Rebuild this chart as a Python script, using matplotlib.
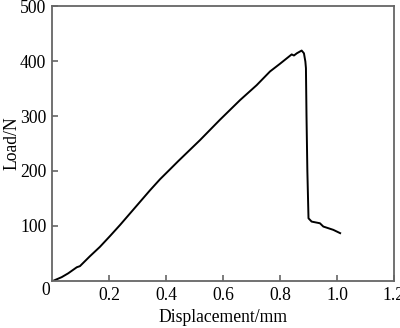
import matplotlib
matplotlib.use("Agg")
import matplotlib.pyplot as plt

disp = [0, 0.005, 0.034, 0.057, 0.087, 0.098, 0.133, 0.168, 0.204, 0.239, 0.274,
        0.309, 0.344, 0.379, 0.414, 0.443, 0.519, 0.589, 0.66, 0.718, 0.765, 0.8,
        0.841, 0.849, 0.859, 0.876, 0.884, 0.889, 0.891, 0.893, 0.896, 0.9, 0.911,
        0.94, 0.952, 0.987, 1.011]
load = [0, 0.5, 7, 14, 25, 27, 45, 62, 82, 102, 123,
        144, 165, 185, 203, 218, 256, 293, 329, 356, 381, 395,
        412, 410, 414, 419, 414, 399, 387, 300, 200, 114, 108,
        105, 99, 93, 87]

xticks = [0.2, 0.4, 0.6, 0.8, 1.0, 1.2]
xticklabels = ["0.2", "0.4", "0.6", "0.8", "1.0", "1.2"]
yticks = [100, 200, 300, 400, 500]
yticklabels = ["100", "200", "300", "400", "500"]

plt.rcParams["font.family"] = ["Liberation Serif", "DejaVu Serif"]
fig = plt.figure(figsize=(4.0, 3.28), dpi=100)
ax = fig.add_axes([0.13, 0.1433, 0.855, 0.8384])
ax.plot(disp, load, color="black", lw=1.4)
ax.set_xlim(0, 1.2)
ax.set_ylim(0, 500)
ax.set_xticks(xticks)
ax.set_xticklabels(xticklabels)
ax.set_yticks(yticks)
ax.set_yticklabels(yticklabels)
spine_c = "#666666"
for s in ax.spines.values():
    s.set_color(spine_c)
    s.set_linewidth(1.3)
fs = 12.7
ax.tick_params(direction="in", length=4, width=1.2, color=spine_c,
               labelsize=fs, labelcolor="black", pad=4)
ax.text(-0.018, -0.035, "0", transform=ax.transAxes, ha="center", va="center",
        fontsize=fs)
ax.set_xlabel("Displacement/mm", fontsize=fs, labelpad=4)
ax.set_ylabel("Load/N", fontsize=fs, labelpad=0)
fig.savefig("out.png", dpi=100)
